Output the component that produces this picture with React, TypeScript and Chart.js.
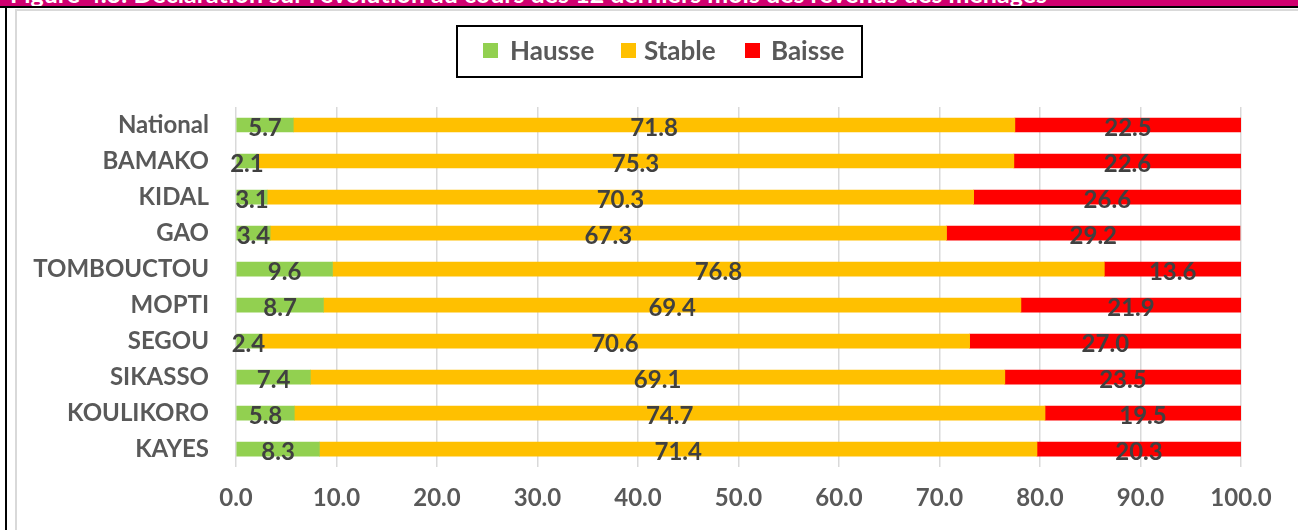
import React, { useEffect, useRef } from "react";
import { Chart, registerables } from "chart.js";

Chart.register(...registerables);

const categories = ["National", "BAMAKO", "KIDAL", "GAO", "TOMBOUCTOU", "MOPTI", "SEGOU", "SIKASSO", "KOULIKORO", "KAYES"];
const hausse = [5.7, 2.1, 3.1, 3.4, 9.6, 8.7, 2.4, 7.4, 5.8, 8.3];
const stable = [71.8, 75.3, 70.3, 67.3, 76.8, 69.4, 70.6, 69.1, 74.7, 71.4];
const baisse = [22.5, 22.6, 26.6, 29.2, 13.6, 21.9, 27.0, 23.5, 19.5, 20.3];
const seriesNames = ["Hausse", "Stable", "Baisse"];
const seriesColors = ["#92D050", "#FFC000", "#FF0000"];
const xTicks = [0, 10, 20, 30, 40, 50, 60, 70, 80, 90, 100];
const title = "Figure 4.3: Déclaration sur l'évolution au cours des 12 derniers mois des revenus des ménages";

const FONT = "Lato, 'Open Sans', sans-serif";

const labelPlugin = {
  id: "barLabels",
  afterDatasetsDraw(chart: any) {
    const ctx = chart.ctx;
    ctx.save();
    ctx.font = `bold 24px ${FONT}`;
    ctx.fillStyle = "#404040";
    ctx.textAlign = "center";
    ctx.textBaseline = "middle";
    chart.data.datasets.forEach((ds: any, i: number) => {
      const meta = chart.getDatasetMeta(i);
      meta.data.forEach((el: any, j: number) => {
        const v = ds.data[j];
        const x = (el.x + el.base) / 2;
        ctx.fillText(v.toFixed(1), x, el.y + 3);
      });
    });
    ctx.restore();
  },
};

export default function App() {
  const ref = useRef<HTMLCanvasElement | null>(null);
  useEffect(() => {
    if (!ref.current) return;
    const data = [hausse, stable, baisse];
    const chart = new Chart(ref.current, {
      type: "bar",
      data: {
        labels: categories,
        datasets: seriesNames.map((n, i) => ({
          label: n,
          data: data[i],
          backgroundColor: seriesColors[i],
          borderWidth: 0,
          barThickness: 14,
        })),
      },
      options: {
        indexAxis: "y",
        animation: false,
        responsive: false,
        maintainAspectRatio: false,
        layout: { padding: { top: 107, left: 0, right: 57, bottom: 0 } },
        plugins: {
          legend: { display: false },
          tooltip: { enabled: false },
          title: { display: false },
        },
        scales: {
          x: {
            stacked: true,
            min: 0,
            max: 100,
            afterBuildTicks: (scale: any) => {
              scale.ticks = xTicks.map((v) => ({ value: v }));
            },
            ticks: {
              padding: 17,
              color: "#595959",
              font: { family: FONT, size: 24, weight: "bold" },
              callback: (v: any) => Number(v).toFixed(1),
              maxRotation: 0,
            },
            grid: { color: "#d9d9d9", lineWidth: 1.5, drawTicks: false },
            border: { display: false },
          },
          y: {
            stacked: true,
            afterFit: (scale: any) => {
              scale.width = 236;
            },
            ticks: {
              padding: 27,
              color: "#595959",
              font: { family: FONT, size: 24, weight: "bold" },
            },
            grid: { display: false, drawTicks: false },
            border: { display: false },
          },
        },
      },
      plugins: [labelPlugin],
    } as any);
    return () => chart.destroy();
  }, []);

  const legendItems = [
    { sq: 483, tx: 510 },
    { sq: 621, tx: 644 },
    { sq: 745, tx: 771 },
  ];

  return (
    <div style={{ position: "absolute", left: 0, top: 0, width: 1298, height: 530, overflow: "hidden", background: "#fff" }}>
      <div style={{ position: "absolute", left: 0, top: 0, width: 1298, height: 6, background: "#D0006F", overflow: "hidden" }}>
        <div style={{ position: "absolute", left: 10, top: -19, whiteSpace: "nowrap", color: "#fff", fontFamily: FONT, fontWeight: "bold", fontSize: 25, lineHeight: "25px" }}>
          {title}
        </div>
      </div>
      <div style={{ position: "absolute", left: 0, top: 6, width: 1298, height: 2, background: "#000" }} />
      <div style={{ position: "absolute", left: 15, top: 9, width: 1283, height: 2, background: "#d9d9d9" }} />
      <div style={{ position: "absolute", left: 5, top: 6, width: 2, height: 524, background: "#000" }} />
      <div style={{ position: "absolute", left: 15, top: 9, width: 2, height: 521, background: "#d9d9d9" }} />
      <canvas ref={ref} width={1298} height={530} style={{ position: "absolute", left: 0, top: 0, width: 1298, height: 530 }} />
      <div style={{ position: "absolute", left: 456, top: 25, width: 403, height: 49, border: "2px solid #000", boxSizing: "content-box" }} />
      {legendItems.map((it, i) => (
        <React.Fragment key={i}>
          <div style={{ position: "absolute", left: it.sq, top: 43, width: 15, height: 15, background: seriesColors[i] }} />
          <div style={{ position: "absolute", left: it.tx, top: 34, fontFamily: FONT, fontWeight: "bold", fontSize: 26, lineHeight: "32px", color: "#595959", whiteSpace: "nowrap" }}>
            {seriesNames[i]}
          </div>
        </React.Fragment>
      ))}
    </div>
  );
}
